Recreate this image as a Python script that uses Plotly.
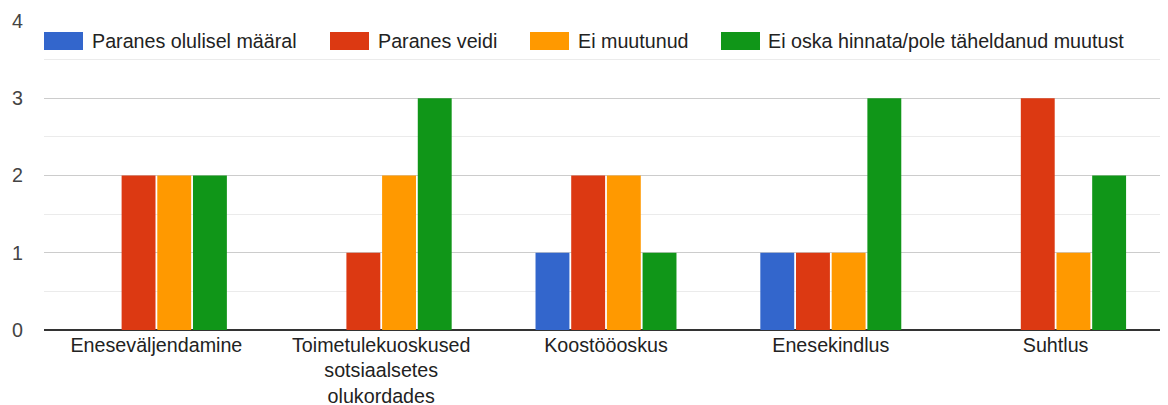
import plotly.graph_objects as go

categories = ["Eneseväljendamine", "Toimetulekuoskused<br>sotsiaalsetes<br>olukordades",
              "Koostööoskus", "Enesekindlus", "Suhtlus"]
series_names = ["Paranes olulisel määral", "Paranes veidi", "Ei muutunud",
                "Ei oska hinnata/pole täheldanud muutust"]
paranes_olulisel = [0, 0, 1, 1, 0]
paranes_veidi = [2, 1, 2, 1, 3]
ei_muutunud = [2, 2, 2, 1, 1]
ei_oska = [2, 3, 1, 3, 2]
colors = ["#3366cc", "#dc3912", "#ff9900", "#109618"]

FONT = "Liberation Sans, Arial, sans-serif"
FS = 19.7

fig = go.Figure()
for name, vals, col in zip(series_names, [paranes_olulisel, paranes_veidi, ei_muutunud, ei_oska], colors):
    fig.add_trace(go.Bar(x=categories, y=vals, name=name, showlegend=False,
                         marker=dict(color=col, line=dict(width=0))))

# custom legend (layout, in plot-area pixel terms converted to paper coords)
PLOT_L, PLOT_W, PLOT_B, PLOT_H = 44, 1124, 330, 309
def px(xs):
    return (xs - PLOT_L) / PLOT_W
def py(ys):
    return (PLOT_B - ys) / PLOT_H

swatch_x = [44, 330, 530, 721]
text_x = [90, 376, 576, 766]
for name, col, sx, tx in zip(series_names, colors, swatch_x, text_x):
    fig.add_shape(type="rect", xref="paper", yref="paper",
                  x0=px(sx), x1=px(sx + 39), y0=py(50), y1=py(32),
                  fillcolor=col, line=dict(width=0), layer="above")
    fig.add_annotation(xref="paper", yref="paper", x=px(tx), y=py(41),
                       xanchor="left", yanchor="middle", showarrow=False,
                       text=name, font=dict(family=FONT, size=FS, color="#222222"))

fig.update_layout(
    width=1168, height=405,
    margin=dict(l=36, r=8, t=13, b=83),
    paper_bgcolor="white", plot_bgcolor="white",
    barmode="group", bargap=0.365, bargroupgap=0.05,
    font=dict(family=FONT, size=FS, color="#222222"),
    showlegend=False,
)
fig.update_xaxes(showgrid=False, showline=False, ticks="", automargin=False,
                 tickfont=dict(size=FS, color="#222222"), ticklabelstandoff=1)
fig.update_yaxes(range=[0, 4], dtick=1, showgrid=True, gridcolor="#cccccc", gridwidth=1,
                 zeroline=True, zerolinecolor="#333333", zerolinewidth=2, automargin=False,
                 tickfont=dict(size=FS, color="#444444"), ticklabelstandoff=20,
                 minor=dict(dtick=0.5, showgrid=True, gridcolor="#ebebeb", gridwidth=1))
fig.write_html("out.html")
